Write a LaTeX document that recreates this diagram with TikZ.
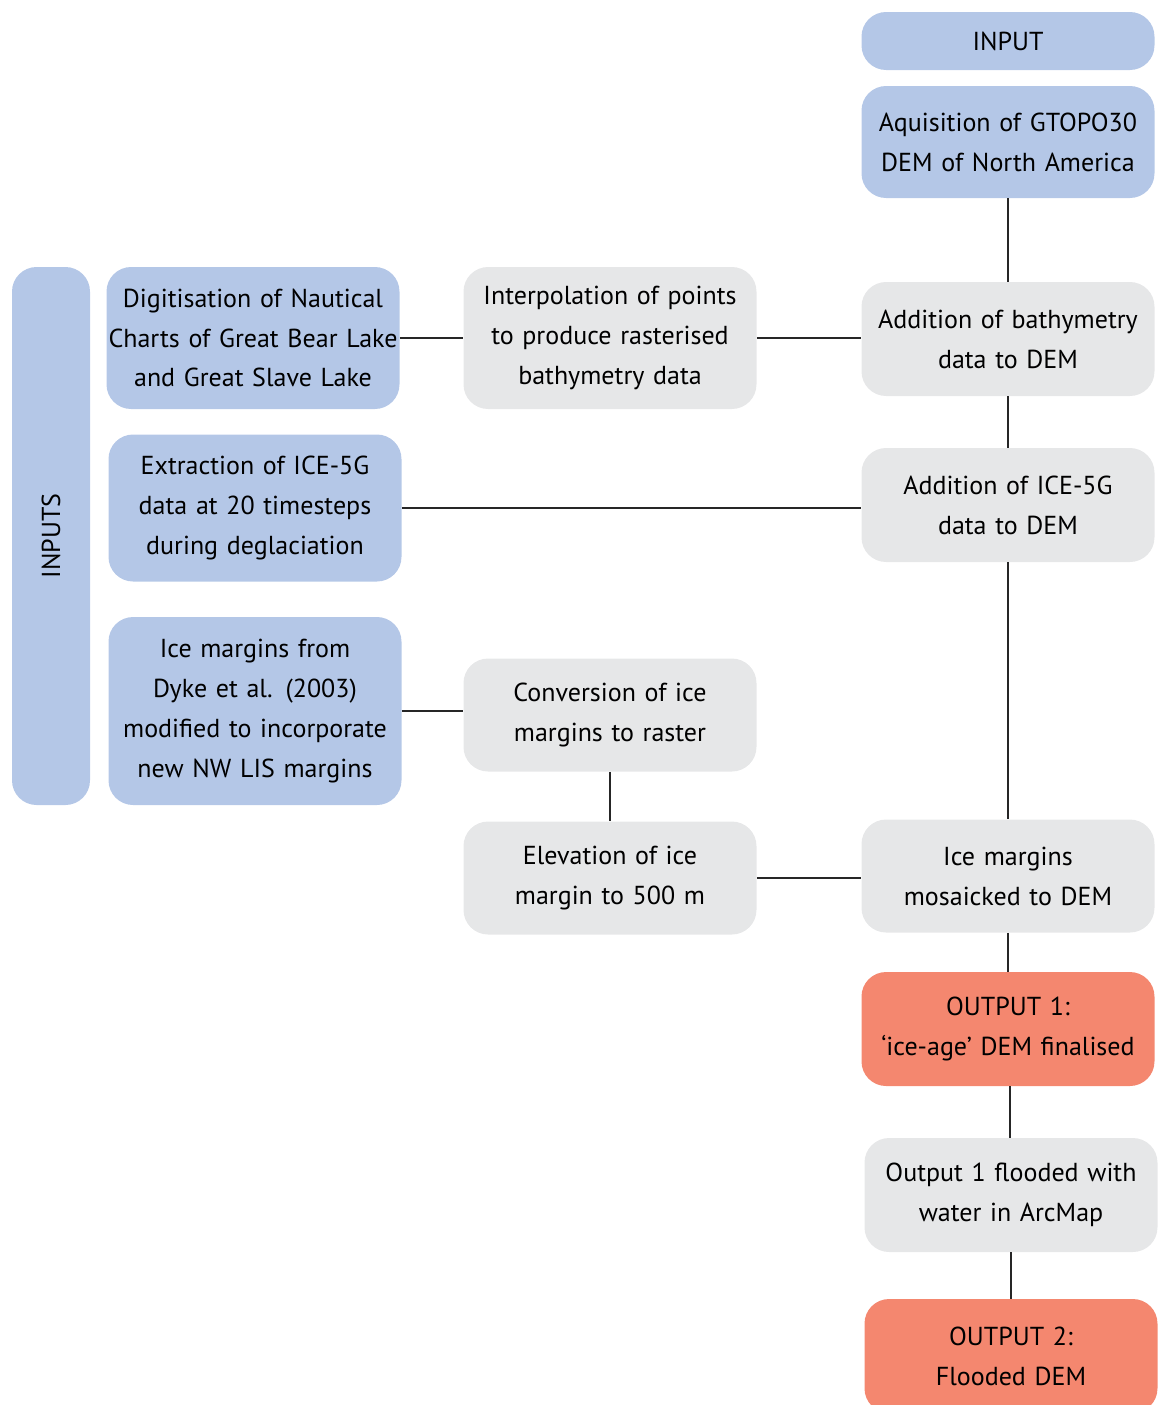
\documentclass[tikz,border=0pt]{standalone}
\usepackage{fontspec}
\setmainfont{PT Sans}
\usetikzlibrary{positioning}
\definecolor{boxblue}{RGB}{180,199,231}
\definecolor{boxgrey}{RGB}{230,231,232}
\definecolor{boxsalmon}{RGB}{244,135,111}
\tikzset{
    stage/.style={
        fill=#1,rounded corners=14pt,inner sep=0pt,
        minimum width=5.86cm,minimum height=2.28cm,
        text width=5.8cm,align=center,
        font=\fontsize{14.8}{22.7}\selectfont
    },
    stage/.default=boxgrey,
    link/.style={line width=1.2pt,draw=black!85}
}
\begin{document}
\begin{tikzpicture}

\useasboundingbox (0,0) rectangle (23.36,-28.1);

% right-hand column
\node[stage=boxblue,minimum height=1.16cm] (input) at (20.16,-0.82) {INPUT};
\node[stage=boxblue,minimum height=2.24cm] (gtopo) at (20.16,-2.84)
{Aquisition of GTOPO30\\DEM of North America};
\node[stage] (bathy) at (20.16,-6.78) {Addition of bathymetry\\data to DEM};
\node[stage] (icedem) at (20.16,-10.1) {Addition of ICE-5G\\data to DEM};
\node[stage,minimum height=2.26cm] (mosaic) at (20.16,-17.52)
{Ice margins\\mosaicked to DEM};
\node[stage=boxsalmon] (outone) at (20.16,-20.58)
{OUTPUT 1:\\`ice-age' DEM finalised};
\node[stage] (flood) at (20.22,-23.9) {Output 1 flooded with\\water in ArcMap};
\node[stage=boxsalmon] (outtwo) at (20.22,-27.12) {OUTPUT 2:\\Flooded DEM};

% inputs
\node[stage=boxblue,rotate=90,minimum width=10.76cm,minimum height=1.56cm,
text width=10cm] (inputs) at (1.02,-10.72) {INPUTS};
\node[stage=boxblue,minimum height=2.84cm] (digit) at (5.06,-6.76)
{Digitisation of Nautical\\Charts of Great Bear Lake\\and Great Slave Lake};
\node[stage=boxblue,minimum height=2.94cm] (extract) at (5.1,-10.16)
{Extraction of ICE-5G\\data at 20 timesteps\\during deglaciation};
\node[stage=boxblue,minimum height=3.76cm] (dyke) at (5.1,-14.22)
{Ice margins from\\Dyke et al. (2003)\\modified to incorporate\\new NW LIS margins};

% middle column
\node[stage,minimum height=2.84cm] (interp) at (12.2,-6.76)
{Interpolation of points\\to produce rasterised\\bathymetry data};
\node[stage,minimum height=2.26cm] (convert) at (12.2,-14.3)
{Conversion of ice\\margins to raster};
\node[stage,minimum height=2.26cm] (elev) at (12.2,-17.56)
{Elevation of ice\\margin to 500 m};

% connectors
\draw[link] (gtopo) -- (bathy);
\draw[link] (bathy) -- (icedem);
\draw[link] (icedem) -- (mosaic);
\draw[link] (mosaic) -- (outone);
\draw[link] (outone.south -| 20.2,0) -- (flood.north -| 20.2,0);
\draw[link] (flood) -- (outtwo);
\draw[link] (digit) -- (interp);
\draw[link] (interp.east) -- (interp.east -| bathy.west);
\draw[link] (extract.east) -- (extract.east -| icedem.west);
\draw[link] (dyke.east) -- (dyke.east -| convert.west);
\draw[link] (convert) -- (elev);
\draw[link] (elev.east) -- (elev.east -| mosaic.west);

\end{tikzpicture}
\end{document}
